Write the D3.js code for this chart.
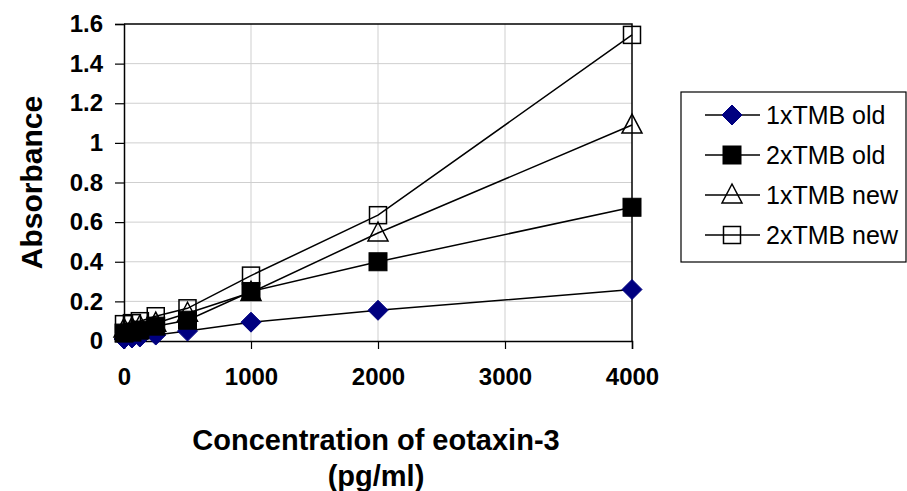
<!DOCTYPE html>
<html>
<head>
<meta charset="utf-8">
<script src="https://cdn.jsdelivr.net/npm/d3@7"></script>
<style>
  html, body { margin: 0; padding: 0; background: #fff; }
  svg { display: block; font-family: Arial, "Liberation Sans", sans-serif; }
</style>
</head>
<body>
<svg id="chart" width="907" height="491"></svg>
<script>
// Standard curve: eotaxin-3 concentration (pg/ml) vs absorbance
const concentrations = [0, 62.5, 125, 250, 500, 1000, 2000, 4000];
const seriesNames = ["1xTMB old", "2xTMB old", "1xTMB new", "2xTMB new"];
const tmb1Old = [0.01, 0.015, 0.02, 0.03, 0.05, 0.095, 0.155, 0.26];
const tmb2Old = [0.04, 0.045, 0.055, 0.075, 0.105, 0.25, 0.40, 0.675];
const tmb1New = [0.06, 0.065, 0.075, 0.09, 0.14, 0.245, 0.545, 1.09];
const tmb2New = [0.085, 0.09, 0.10, 0.125, 0.165, 0.33, 0.635, 1.545];
const xTicks = [0, 1000, 2000, 3000, 4000];
const yTicks = [0, 0.2, 0.4, 0.6, 0.8, 1, 1.2, 1.4, 1.6];
const markerKinds = ["diamond", "filledSquare", "openTriangle", "openSquare"];

const series = seriesNames.map((name, i) => ({
  name,
  kind: markerKinds[i],
  values: [tmb1Old, tmb2Old, tmb1New, tmb2New][i]
}));

const svg = d3.select("#chart");
const plot = { left: 124, right: 632, top: 24, bottom: 341 };

const x = d3.scaleLinear().domain([0, 4000]).range([plot.left, plot.right]);
const y = d3.scaleLinear().domain([0, 1.6]).range([plot.bottom, plot.top]);

// gridlines
svg.append("g")
  .selectAll("line.h")
  .data(yTicks.filter(d => d > 0 && d < 1.6))
  .join("line")
  .attr("x1", plot.left).attr("x2", plot.right)
  .attr("y1", d => y(d)).attr("y2", d => y(d))
  .attr("stroke", "#cfcfcf").attr("stroke-width", 1);
svg.append("g")
  .selectAll("line.v")
  .data(xTicks.filter(d => d > 0 && d < 4000))
  .join("line")
  .attr("x1", d => x(d)).attr("x2", d => x(d))
  .attr("y1", plot.top).attr("y2", plot.bottom)
  .attr("stroke", "#cfcfcf").attr("stroke-width", 1);

// frame top and right
svg.append("path")
  .attr("d", `M${plot.left},${plot.top}H${plot.right}V${plot.bottom}`)
  .attr("fill", "none").attr("stroke", "#000").attr("stroke-width", 1.5);

// axes
const xAxis = svg.append("g")
  .attr("transform", `translate(0,${plot.bottom})`)
  .call(d3.axisBottom(x).tickValues(xTicks).tickSize(8).tickPadding(19).tickFormat(d3.format("d")));
const yAxis = svg.append("g")
  .attr("transform", `translate(${plot.left},0)`)
  .call(d3.axisLeft(y).tickValues(yTicks).tickSize(9).tickPadding(12).tickFormat(d => String(d)));

[xAxis, yAxis].forEach(a => {
  a.select(".domain").attr("stroke", "#000").attr("stroke-width", 1.5);
  a.selectAll(".tick line").attr("stroke", "#000").attr("stroke-width", 1.2);
  a.selectAll(".tick text")
    .attr("fill", "#000")
    .style("font-family", "Arial, 'Liberation Sans', sans-serif")
    .style("font-size", "24px").style("font-weight", "bold");
});

// marker shapes
function drawMarker(g, kind, cx, cy) {
  if (kind === "diamond") {
    g.append("path")
      .attr("d", `M${cx},${cy - 10}L${cx + 10},${cy}L${cx},${cy + 10}L${cx - 10},${cy}Z`)
      .attr("fill", "#000080").attr("stroke", "#000080").attr("stroke-width", 1);
  } else if (kind === "filledSquare") {
    g.append("rect").attr("x", cx - 9).attr("y", cy - 9).attr("width", 18).attr("height", 18)
      .attr("fill", "#000").attr("stroke", "#000").attr("stroke-width", 1);
  } else if (kind === "openTriangle") {
    g.append("path")
      .attr("d", `M${cx},${cy - 11}L${cx + 10},${cy + 8}L${cx - 10},${cy + 8}Z`)
      .attr("fill", "none").attr("stroke", "#000").attr("stroke-width", 1.5);
  } else {
    g.append("rect").attr("x", cx - 8.5).attr("y", cy - 8.5).attr("width", 17).attr("height", 17)
      .attr("fill", "none").attr("stroke", "#000").attr("stroke-width", 1.5);
  }
}

const line = d3.line().x(d => x(d[0])).y(d => y(d[1]));

series.forEach(s => {
  const pts = concentrations.map((c, i) => [c, s.values[i]]);
  const g = svg.append("g");
  g.append("path").attr("d", line(pts))
    .attr("fill", "none").attr("stroke", "#000").attr("stroke-width", 1.5);
  pts.forEach(p => drawMarker(g, s.kind, x(p[0]), y(p[1])));
});

// axis titles
svg.append("text")
  .attr("transform", `translate(42,${(plot.top + plot.bottom) / 2}) rotate(-90)`)
  .attr("text-anchor", "middle")
  .style("font-size", "30px").style("font-weight", "bold")
  .text("Absorbance");
svg.append("text")
  .attr("x", 376).attr("y", 450)
  .attr("text-anchor", "middle")
  .style("font-size", "29px").style("font-weight", "bold")
  .text("Concentration of eotaxin-3");
svg.append("text")
  .attr("x", 376).attr("y", 486)
  .attr("text-anchor", "middle")
  .style("font-size", "29px").style("font-weight", "bold")
  .text("(pg/ml)");

// legend
const legend = svg.append("g");
legend.append("rect")
  .attr("x", 681).attr("y", 92).attr("width", 225).attr("height", 170)
  .attr("fill", "#fff").attr("stroke", "#000").attr("stroke-width", 1.2);
series.forEach((s, i) => {
  const ly = 115 + i * 40;
  legend.append("line").attr("x1", 705).attr("x2", 760).attr("y1", ly).attr("y2", ly)
    .attr("stroke", "#000").attr("stroke-width", 1.5);
  drawMarker(legend, s.kind, 732, ly);
  legend.append("text").attr("x", 766).attr("y", ly + 9)
    .style("font-size", "25px")
    .text(s.name);
});
</script>
</body>
</html>
